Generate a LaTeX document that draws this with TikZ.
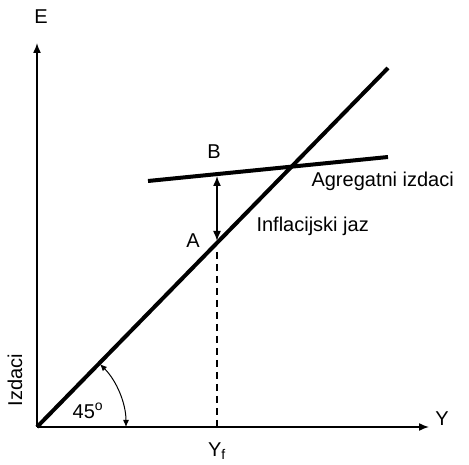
\documentclass[tikz,border=0pt]{standalone}
\usepackage{fontspec}
\setmainfont{Liberation Sans}
\usetikzlibrary{arrows.meta}
\begin{document}
\begin{tikzpicture}[x=1pt, y=1pt, font=\fontsize{20}{22}\selectfont, line join=round, >={Latex[length=10pt, width=8pt]}]
	\useasboundingbox (0,0) rectangle (469,464);
	\def\Yf{217}
	% truc toa do
	\coordinate (O) at (37,37);
	\coordinate (Etop) at (37,421);
	\coordinate (Yend) at (429,37);
	\draw[->, line width=1.5pt] (O) -- (Etop);
	\draw[->, line width=1.5pt] (O) -- (Yend);
	\node (E) at (41,447) {E};
	\node (Y) at (442,45) {Y};
	\node[rotate=90] (izd) at (15,84) {Izdaci};
	% duong 45 do va tong chi tieu
	\coordinate (L) at (388,396);
	\draw[line width=4pt] (O) -- (L);
	\coordinate (P1) at (148,283);
	\coordinate (P2) at (388,307);
	\draw[line width=4pt] (P1) -- (P2);
	\coordinate (B) at (\Yf,288);
	\coordinate (A) at (\Yf,223);
	\coordinate (Af) at (\Yf,212);
	\coordinate (Yf) at (\Yf,37);
	\draw[<->, line width=1.5pt] (B) -- (A);
	\draw[line width=1.5pt, dash pattern=on 7pt off 5pt] (Af) -- (Yf);
	\node (lB) at (214,312) {B};
	\node (lA) at (193,223) {A};
	\node[anchor=west] (agr) at (308,283) {Agregatni izdaci};
	\node[anchor=west] (inf) at (253,238) {Inflacijski jaz};
	\node (lYf) at (\Yf,13) {Y$_{\mathrm{f}}$};
	% goc 45
	\draw[<->, line width=1pt, >={Latex[length=7pt, width=6pt]}] (37+89,37) arc[start angle=0, end angle=45, radius=89];
	\node (g45) at (88,53) {45$^{\mathrm{o}}$};
\end{tikzpicture}
\end{document}
